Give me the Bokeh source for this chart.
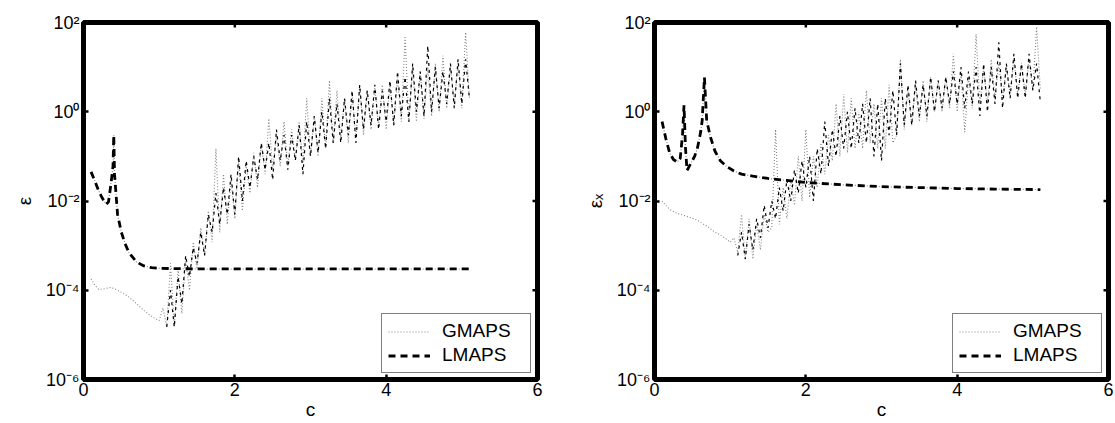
import math
from bokeh.plotting import figure
from bokeh.models import (FixedTicker, Legend, LegendItem, CustomJSTickFormatter, Range1d)
from bokeh.layouts import row
from bokeh.embed import file_html
from bokeh.resources import INLINE

# ---------------- data ----------------
x_ticks = [0, 2, 4, 6]
y_ticks = [1e-6, 1e-4, 1e-2, 1e0, 1e2]
y_tick_exps = [-6, -4, -2, 0, 2]
y_tick_labels = ["10\u207b\u2076", "10\u207b\u2074", "10\u207b\u00b2", "10\u2070", "10\u00b2"]

c_grid = [0.10, 0.15, 0.20, 0.25, 0.30, 0.35, 0.40, 0.45, 0.50, 0.55,
          0.60, 0.65, 0.70, 0.75, 0.80, 0.85, 0.90, 0.95, 1.00, 1.05,
          1.10, 1.15, 1.20, 1.25, 1.30, 1.35, 1.40, 1.45, 1.50, 1.55,
          1.60, 1.65, 1.70, 1.75, 1.80, 1.85, 1.90, 1.95, 2.00, 2.05,
          2.10, 2.15, 2.20, 2.25, 2.30, 2.35, 2.40, 2.45, 2.50, 2.55,
          2.60, 2.65, 2.70, 2.75, 2.80, 2.85, 2.90, 2.95, 3.00, 3.05,
          3.10, 3.15, 3.20, 3.25, 3.30, 3.35, 3.40, 3.45, 3.50, 3.55,
          3.60, 3.65, 3.70, 3.75, 3.80, 3.85, 3.90, 3.95, 4.00, 4.05,
          4.10, 4.15, 4.20, 4.25, 4.30, 4.35, 4.40, 4.45, 4.50, 4.55,
          4.60, 4.65, 4.70, 4.75, 4.80, 4.85, 4.90, 4.95, 5.00, 5.05,
          5.10]
c_osc = c_grid[20:]   # 1.10 .. 5.10

# left panel (epsilon)
gmaps_left = [1.8e-4, 1.3e-4, 1.05e-4, 1.05e-4, 1.1e-4, 1.15e-4, 1.1e-4, 1.0e-4, 9e-5, 8e-5,
              7e-5, 6e-5, 5e-5, 4.2e-5, 3.5e-5, 3e-5, 2.6e-5, 2.3e-5, 2.1e-5,
              4e-5, 1.5e-5, 4e-4, 1.6e-5, 3e-4, 3e-5, 5e-4, 1e-4, 1.2e-3, 3e-4,
              2.5e-3, 6e-4, 6e-3, 1.2e-3, 1.5e-1, 2e-3, 4e-2, 3e-3, 3e-2, 4e-3,
              8e-2, 6e-3, 6e-2, 1.5e-2, 1.2e-1, 2e-2, 2e-1, 4e-2, 7e-1, 5e-2,
              3e-1, 6e-2, 6e-1, 6e-2, 4e-1, 8e-2, 6e-1, 7e-2, 2.0, 1e-1,
              8e-1, 1e-1, 2.0, 1.5e-1, 5.0, 2e-1, 3.0, 2.5e-1, 2.0, 2e-1,
              2.5, 2.5e-1, 4.0, 3e-1, 3.0, 4e-1, 3.5, 5e-1, 4.0, 4e-1,
              4.0, 5e-1, 6.0, 6e-1, 50, 6e-1, 10, 6e-1, 8, 7e-1,
              10, 8e-1, 12, 1.0, 18, 1.2, 10, 1.5, 12, 1.2,
              60, 2.0]
lmaps_osc_left = [1.5e-5, 1e-4, 1.5e-5, 2e-4, 5e-5, 6e-4, 2e-4, 9e-4, 4e-4, 2e-3,
                  6e-4, 5e-3, 2e-3, 1.5e-2, 3e-3, 2e-2, 5e-3, 4e-2, 5e-3, 1e-1,
                  1e-2, 8e-2, 2e-2, 1e-1, 3e-2, 2e-1, 5e-2, 2e-1, 3e-2, 4e-1,
                  8e-2, 3e-1, 5e-2, 3e-1, 8e-2, 5e-1, 4e-2, 6e-1, 1e-1, 8e-1,
                  1.2e-1, 1.0, 1.5e-1, 2.0, 2e-1, 1.5, 2e-1, 2.0, 3e-1, 3.0,
                  2e-1, 4.0, 4e-1, 3.0, 5e-1, 4.0, 4e-1, 3.0, 6e-1, 5.0,
                  5e-1, 8.0, 8e-1, 6.0, 6e-1, 12, 1.0, 8, 8e-1, 30,
                  1.0, 10, 1.2, 8, 1.5, 12, 1.2, 15, 1.5, 15,
                  2.0]
c_lmaps_left = [0.10, 0.15, 0.20, 0.25, 0.30, 0.33, 0.36, 0.39, 0.40, 0.41,
                0.45, 0.50, 0.55, 0.60, 0.70, 0.80, 0.90, 1.00, 1.50, 2.00,
                3.00, 4.00, 5.10]
lmaps_left = [4.5e-2, 2.8e-2, 1.7e-2, 1.15e-2, 8.5e-3, 9.5e-3, 2.2e-2, 6e-2, 3e-1, 4e-2,
              5e-3, 2e-3, 1.1e-3, 7e-4, 4.3e-4, 3.5e-4, 3.2e-4, 3.1e-4, 3e-4, 3e-4,
              3e-4, 3e-4, 3e-4]

# right panel (epsilon_x)
gmaps_right = [1.0e-2, 8e-3, 6.5e-3, 5.8e-3, 5.3e-3, 5.0e-3, 4.7e-3, 4.4e-3, 4.1e-3, 3.8e-3,
               3.4e-3, 3.0e-3, 2.7e-3, 2.3e-3, 2.0e-3, 1.8e-3, 1.6e-3, 1.4e-3, 1.2e-3,
               1.5e-3, 7e-4, 5e-3, 5e-4, 4e-3, 5e-4, 3e-3, 8e-4, 5e-3, 2e-3,
               2.5e-3, 4e-1, 3e-3, 2e-2, 4e-3, 3e-2, 8e-3, 1e-1, 1e-2, 4e-1,
               1.2e-2, 1e-1, 2e-2, 2e-1, 4e-2, 3e-1, 8e-2, 1.5, 1e-1, 2.5,
               1.2e-1, 2.0, 1.5e-1, 1.0, 1.5e-1, 3.0, 2e-1, 1.5, 1.5e-1, 2.0,
               1.5e-1, 4.0, 2e-1, 3e-1, 15, 4e-1, 3.0, 5e-1, 4.0, 6e-1,
               5.0, 6e-1, 6.0, 1.0, 5.0, 1.0, 6.0, 1.2, 20, 1.0,
               8, 3.5e-1, 6, 1.2, 55, 1.5, 10, 1.5, 15, 2.0,
               12, 2.0, 10, 2.5, 15, 2.5, 12, 2.5, 15, 3.0,
               80, 3.0]
lmaps_osc_right = [6e-4, 2e-3, 5e-4, 3e-3, 8e-4, 4e-3, 1.5e-3, 8e-3, 2.5e-3, 1e-2,
                   4e-3, 2e-2, 6e-3, 3e-2, 1e-2, 5e-2, 1.5e-2, 8e-2, 2e-2, 1e-1,
                   1e-2, 1.5e-1, 4e-2, 6e-1, 6e-2, 4e-1, 1e-1, 8e-1, 1.5e-1, 1.0,
                   1.5e-1, 1.2, 2e-1, 1.5, 2e-1, 2.0, 1e-1, 1.5, 8e-2, 2.0,
                   3e-1, 3.0, 3e-1, 12, 5e-1, 4.0, 5e-1, 5.0, 8e-1, 4.0,
                   8e-1, 6.0, 1.0, 5.0, 1.2, 6.0, 1.5, 8.0, 1.5, 10,
                   1.2, 8.0, 1.5, 10, 8e-1, 12, 1.0, 10, 1.5, 36,
                   1.2, 12, 2.0, 20, 2.0, 12, 2.0, 20, 3.0, 12,
                   1.6]
c_lmaps_right = [0.10, 0.15, 0.20, 0.25, 0.30, 0.34, 0.37, 0.39, 0.41, 0.43,
                 0.48, 0.53, 0.57, 0.61, 0.63, 0.66, 0.69, 0.74, 0.80, 0.87,
                 0.95, 1.05, 1.15, 1.30, 1.50, 1.75, 2.00, 2.50, 3.00, 3.50,
                 4.00, 4.50, 5.10]
lmaps_right = [0.6, 0.25, 0.12, 0.085, 0.075, 0.09, 0.3, 1.4, 0.15, 0.048,
               0.07, 0.1, 0.16, 0.35, 0.63, 5.9, 0.63, 0.27, 0.13, 0.08,
               0.06, 0.047, 0.04, 0.036, 0.032, 0.029, 0.026, 0.023, 0.021, 0.02,
               0.019, 0.0185, 0.018]

FONT = "Liberation Sans"
GRAY = "#858585"


def make_panel(ylabel, gm, lm_osc, c_lm, lm, width, bl, br):
    p = figure(width=width, height=423, x_range=Range1d(0, 6), y_range=Range1d(1e-6, 1e2),
               y_axis_type="log", output_backend="svg", toolbar_location=None,
               min_border_left=bl, min_border_right=br, min_border_top=22, min_border_bottom=44)
    p.grid.visible = False
    p.outline_line_color = "black"
    p.outline_line_width = 5
    p.outline_line_alpha = 1.0

    fmt = CustomJSTickFormatter(args=dict(labels=y_tick_labels, exps=y_tick_exps), code="""
        const e = Math.round(Math.log10(tick));
        const i = exps.indexOf(e);
        return i >= 0 ? labels[i] : "";
    """)
    p.xaxis.ticker = FixedTicker(ticks=x_ticks)
    p.yaxis.ticker = FixedTicker(ticks=y_ticks)
    p.yaxis.formatter = fmt
    p.xaxis.axis_label = "c"
    p.yaxis.axis_label = ylabel
    for ax in (p.xaxis[0], p.yaxis[0]):
        ax.axis_line_color = "black"
        ax.axis_line_width = 2.5
        ax.major_tick_in = 5
        ax.major_tick_out = 0
        ax.major_tick_line_width = 2.5
        ax.minor_tick_in = 0
        ax.minor_tick_out = 0
        ax.major_label_text_font = FONT
        ax.major_label_text_font_size = "18px"
        ax.major_label_text_color = "black"
        ax.axis_label_text_font = FONT
        ax.axis_label_text_font_size = "19px"
        ax.axis_label_text_font_style = "normal"
        ax.axis_label_text_color = "black"
    p.xaxis.major_label_standoff = 3
    p.xaxis.axis_label_standoff = 0
    p.yaxis.major_label_standoff = 4
    p.yaxis.axis_label_standoff = 8

    # inward ticks on the top and right edges of the box
    p.ray(x=x_ticks, y=[1e2] * len(x_ticks), length=5, length_units="screen",
          angle=-math.pi / 2, line_color="black", line_width=2.5)
    p.ray(x=[6] * len(y_ticks), y=y_ticks, length=5, length_units="screen",
          angle=math.pi, line_color="black", line_width=2.5)

    r_gm = p.line(c_grid, gm, line_color=GRAY, line_width=1.1, line_dash="1 2")
    p.line(c_osc, lm_osc, line_color="black", line_width=1.2, line_dash="3 4")
    p.line(c_lm, lm, line_color=GRAY, line_width=1.1, line_dash="1 2")
    r_lm = p.line(c_lm, lm, line_color="black", line_width=2.8, line_dash="7 5")

    legend = Legend(items=[LegendItem(label="GMAPS", renderers=[r_gm]),
                           LegendItem(label="LMAPS", renderers=[r_lm])],
                    location="bottom_right", margin=6, padding=6, spacing=2,
                    glyph_width=42, glyph_height=21, label_height=21, label_width=82,
                    label_standoff=12, label_text_font=FONT, label_text_font_size="19px",
                    label_text_color="black", border_line_color="black", border_line_width=1.2,
                    background_fill_color="white", background_fill_alpha=1.0)
    p.add_layout(legend)
    return p


p1 = make_panel("\u03b5", gmaps_left, lmaps_osc_left, c_lmaps_left, lmaps_left, 560, 83, 23)
p2 = make_panel("\u03b5\u2093", gmaps_right, lmaps_osc_right, c_lmaps_right, lmaps_right, 555, 94, 7)

layout = row(p1, p2, spacing=0)
open("out.html", "w").write(file_html(layout, INLINE))
